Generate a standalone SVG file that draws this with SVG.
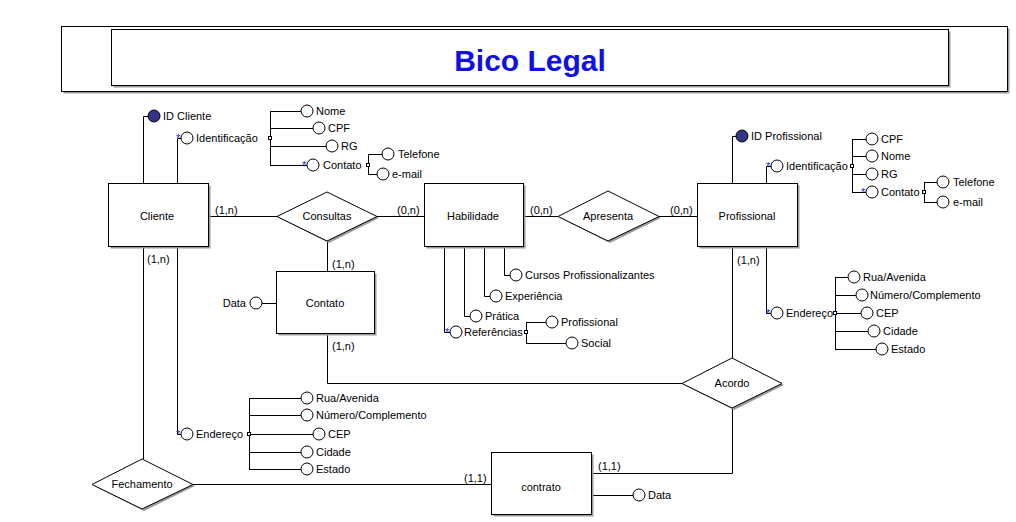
<svg xmlns="http://www.w3.org/2000/svg" width="1016" height="522" viewBox="0 0 1016 522">
<style>
text{font-family:"Liberation Sans",Arial,sans-serif;font-size:11px;fill:#000}
.c{text-anchor:middle}
.t{font-size:30px;font-weight:bold;fill:#1010e6;text-anchor:middle}
.ent{fill:#fff;stroke:#000;stroke-width:1}
.sh{fill:#9a9a9a}
.ln{fill:none;stroke:#000;stroke-width:1}
.at{fill:#fff;stroke:#000;stroke-width:1}
.id{fill:#33338a;stroke:#000;stroke-width:1}
.sq{fill:#fff;stroke:#000;stroke-width:1}
.st{fill:#2020e0;font-size:11px}
</style>
<rect width="1016" height="522" fill="#fff"/>
<g id="title">
<rect class="sh" x="63.5" y="28.5" width="946" height="65"/>
<rect class="ent" x="61.5" y="26.5" width="946" height="65"/>
<rect class="sh" x="113.5" y="31.5" width="837" height="56"/>
<rect class="ent" x="111.5" y="29.5" width="837" height="56"/>
<text class="t" x="530" y="71">Bico Legal</text>
</g>
<g id="connectors">
<path class="ln" d="M208,216.5 H277"/>
<path class="ln" d="M377,216.5 H424"/>
<path class="ln" d="M523,216.5 H558"/>
<path class="ln" d="M659,216.5 H697"/>
<path class="ln" d="M327.5,241 V271"/>
<path class="ln" d="M327.5,333 V383.5 H682"/>
<path class="ln" d="M732.5,247 V358"/>
<path class="ln" d="M732.5,408 V473.5 H592"/>
<path class="ln" d="M143.5,247 V459"/>
<path class="ln" d="M193,484.5 H491"/>
<text x="215" y="214">(1,n)</text>
<text x="397" y="214">(0,n)</text>
<text x="530" y="214">(0,n)</text>
<text x="670" y="214">(0,n)</text>
<text x="332" y="268">(1,n)</text>
<text x="332" y="350">(1,n)</text>
<text x="737" y="264">(1,n)</text>
<text x="147" y="263">(1,n)</text>
<text x="598" y="470">(1,1)</text>
<text x="464" y="482">(1,1)</text>
<!-- attribute links -->
<path class="ln" d="M143.5,183 V116.5 H148"/>
<path class="ln" d="M177.5,183 V138.5 H181"/>
<path class="ln" d="M270.5,111 V166"/>
<path class="ln" d="M270,111.5 H301 M270,128.5 H313 M270,146.5 H326 M270,165.5 H307"/>
<path class="ln" d="M368.5,154 V175 M368,154.5 H382 M368,174.5 H377"/>
<path class="ln" d="M177.5,247 V434.5 H181"/>
<path class="ln" d="M249.5,398 V470 M249,398.5 H301 M249,415.5 H301 M249,434.5 H313 M249,452.5 H301 M249,469.5 H301"/>
<path class="ln" d="M262,303.5 H276"/>
<path class="ln" d="M504.5,246 V275.5 H510 M484.5,246 V296.5 H490 M464.5,246 V316.5 H470 M444.5,246 V332.5 H450"/>
<path class="ln" d="M526.5,322 V343 M526,322.5 H546 M526,343.5 H566"/>
<path class="ln" d="M732.5,183 V136.5 H736"/>
<path class="ln" d="M766.5,183 V166.5 H771"/>
<path class="ln" d="M852.5,139 V193 M852,139.5 H866 M852,156.5 H866 M852,174.5 H866 M852,192.5 H866"/>
<path class="ln" d="M924.5,182 V202 M924,182.5 H937 M924,202.5 H937"/>
<path class="ln" d="M766.5,247 V313.5 H771"/>
<path class="ln" d="M835.5,277 V350 M835,277.5 H848 M835,295.5 H856 M835,313.5 H861 M835,331.5 H868 M835,349.5 H876"/>
<path class="ln" d="M592,495.5 H633"/>
</g>
<g id="cliente">
<rect class="sh" x="110.5" y="185.5" width="100" height="63"/>
<rect class="ent" x="108.5" y="183.5" width="100" height="63"/>
<text class="c" x="157" y="220">Cliente</text>
</g>
<g id="habilidade">
<rect class="sh" x="426.5" y="185.5" width="99" height="63"/>
<rect class="ent" x="424.5" y="183.5" width="99" height="63"/>
<text class="c" x="473" y="220">Habilidade</text>
</g>
<g id="profissional">
<rect class="sh" x="699.5" y="185.5" width="100" height="63"/>
<rect class="ent" x="697.5" y="183.5" width="100" height="63"/>
<text class="c" x="747" y="220">Profissional</text>
</g>
<g id="contato">
<rect class="sh" x="278.5" y="273.5" width="98" height="62"/>
<rect class="ent" x="276.5" y="271.5" width="98" height="62"/>
<text class="c" x="325" y="307">Contato</text>
</g>
<g id="contrato">
<rect class="sh" x="493.5" y="454.5" width="100" height="62"/>
<rect class="ent" x="491.5" y="452.5" width="100" height="62"/>
<text class="c" x="541" y="491">contrato</text>
</g>
<g id="consultas">
<polygon class="sh" points="279,218 329,194 379,218 329,243"/>
<polygon class="ent" points="277,216.5 327,192 377,216.5 327,241"/>
<text class="c" x="327" y="220">Consultas</text>
</g>
<g id="apresenta">
<polygon class="sh" points="560,218 610,193 661,218 610,243"/>
<polygon class="ent" points="558,216.5 608,191 659,216.5 608,241"/>
<text class="c" x="608" y="220">Apresenta</text>
</g>
<g id="acordo">
<polygon class="sh" points="684,385 734,360 784,385 734,410"/>
<polygon class="ent" points="682,383.5 732,358 782,383.5 732,408"/>
<text class="c" x="732" y="387">Acordo</text>
</g>
<g id="fechamento">
<polygon class="sh" points="94,486 144,461 195,486 144,511"/>
<polygon class="ent" points="92,484.5 142,459 193,484.5 142,509"/>
<text class="c" x="142" y="488">Fechamento</text>
</g>
<g id="attr-cliente">
<circle class="id" cx="154" cy="116" r="6"/><text x="163" y="120">ID Cliente</text>
<circle class="at" cx="187" cy="138" r="6"/><text class="st" x="176" y="142">*</text><text x="196" y="142">Identificação</text>
<rect class="sq" x="268.5" y="136.5" width="3" height="3"/>
<circle class="at" cx="307" cy="111" r="6"/><text x="316" y="115">Nome</text>
<circle class="at" cx="319" cy="128" r="6"/><text x="328" y="132">CPF</text>
<circle class="at" cx="332" cy="146" r="6"/><text x="341" y="150">RG</text>
<circle class="at" cx="313" cy="165" r="6"/><text class="st" x="302" y="169">*</text><text x="323" y="169">Contato</text>
<rect class="sq" x="366.5" y="163.5" width="3" height="3"/>
<circle class="at" cx="388" cy="154" r="6"/><text x="398" y="158">Telefone</text>
<circle class="at" cx="383" cy="174" r="6"/><text x="392" y="178">e-mail</text>
<circle class="at" cx="187" cy="434" r="6"/><text class="st" x="176" y="438">*</text><text x="196" y="438">Endereço</text>
<rect class="sq" x="247.5" y="432.5" width="3" height="3"/>
<circle class="at" cx="307" cy="398" r="6"/><text x="316" y="402">Rua/Avenida</text>
<circle class="at" cx="307" cy="415" r="6"/><text x="316" y="419">Número/Complemento</text>
<circle class="at" cx="319" cy="434" r="6"/><text x="328" y="438">CEP</text>
<circle class="at" cx="307" cy="452" r="6"/><text x="316" y="456">Cidade</text>
<circle class="at" cx="307" cy="469" r="6"/><text x="316" y="473">Estado</text>
</g>
<g id="attr-contato">
<circle class="at" cx="256" cy="303" r="6"/><text x="246" y="307" text-anchor="end">Data</text>
</g>
<g id="attr-habilidade">
<circle class="at" cx="516" cy="275" r="6"/><text x="525" y="279">Cursos Profissionalizantes</text>
<circle class="at" cx="496" cy="296" r="6"/><text x="505" y="300">Experiência</text>
<circle class="at" cx="476" cy="316" r="6"/><text x="485" y="320">Prática</text>
<circle class="at" cx="456" cy="332" r="6"/><text class="st" x="445" y="336">*</text><text x="464" y="336">Referências</text>
<rect class="sq" x="524.5" y="330.5" width="3" height="3"/>
<circle class="at" cx="552" cy="322" r="6"/><text x="561" y="326">Profissional</text>
<circle class="at" cx="572" cy="343" r="6"/><text x="581" y="347">Social</text>
</g>
<g id="attr-profissional">
<circle class="id" cx="742" cy="136" r="6"/><text x="751" y="140">ID Profissional</text>
<circle class="at" cx="777" cy="166" r="6"/><text class="st" x="766" y="170">*</text><text x="786" y="170">Identificação</text>
<rect class="sq" x="850.5" y="164.5" width="3" height="3"/>
<circle class="at" cx="872" cy="139" r="6"/><text x="881" y="143">CPF</text>
<circle class="at" cx="872" cy="156" r="6"/><text x="881" y="160">Nome</text>
<circle class="at" cx="872" cy="174" r="6"/><text x="881" y="178">RG</text>
<circle class="at" cx="872" cy="192" r="6"/><text class="st" x="861" y="196">*</text><text x="881" y="196">Contato</text>
<rect class="sq" x="922.5" y="190.5" width="3" height="3"/>
<circle class="at" cx="943" cy="182" r="6"/><text x="953" y="186">Telefone</text>
<circle class="at" cx="943" cy="202" r="6"/><text x="953" y="206">e-mail</text>
<circle class="at" cx="777" cy="313" r="6"/><text class="st" x="766" y="317">*</text><text x="786" y="317">Endereço</text>
<rect class="sq" x="833.5" y="311.5" width="3" height="3"/>
<circle class="at" cx="854" cy="277" r="6"/><text x="863" y="281">Rua/Avenida</text>
<circle class="at" cx="862" cy="295" r="6"/><text x="870" y="299">Número/Complemento</text>
<circle class="at" cx="867" cy="313" r="6"/><text x="876" y="317">CEP</text>
<circle class="at" cx="874" cy="331" r="6"/><text x="883" y="335">Cidade</text>
<circle class="at" cx="882" cy="349" r="6"/><text x="891" y="353">Estado</text>
</g>
<g id="attr-contrato">
<circle class="at" cx="639" cy="495" r="6"/><text x="648" y="499">Data</text>
</g>
</svg>
